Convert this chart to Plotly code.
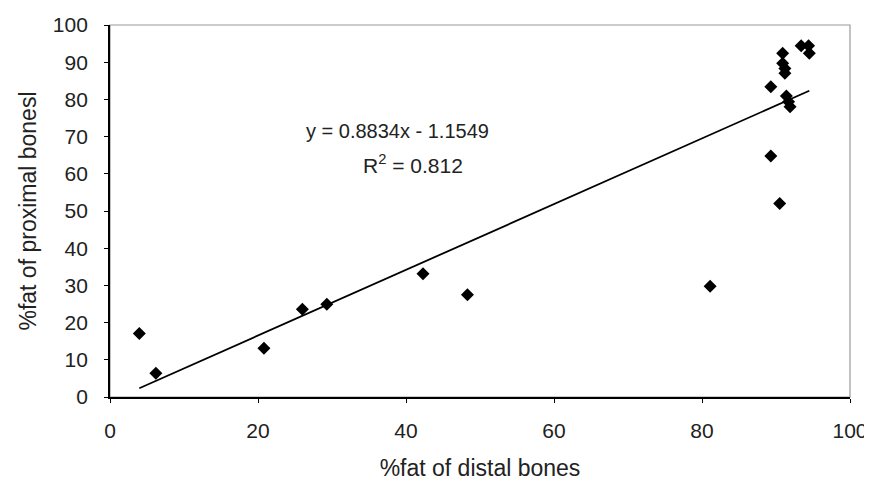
import plotly.graph_objects as go

# Data
x_distal = [3.96, 6.2, 20.8, 26.0, 29.3, 42.3, 48.3, 81.1, 89.3, 90.5,
            89.3, 90.9, 90.9, 91.2, 91.2, 91.4, 91.7, 91.9, 93.4, 94.4, 94.5]
y_proximal = [17.1, 6.4, 13.1, 23.6, 24.9, 33.1, 27.5, 29.8, 64.8, 52.0,
              83.4, 92.4, 89.7, 88.3, 87.0, 80.9, 79.4, 78.0, 94.4, 94.4, 92.4]

slope = 0.8834
intercept = -1.1549
r_squared = 0.812

x_ticks = [0, 20, 40, 60, 80, 100]
y_ticks = [0, 10, 20, 30, 40, 50, 60, 70, 80, 90, 100]

FONT = "Liberation Sans, Arial, sans-serif"

fig = go.Figure()

# trendline over the data range
x_min, x_max = min(x_distal), max(x_distal)
fig.add_trace(go.Scatter(
    x=[x_min, x_max],
    y=[slope * x_min + intercept, slope * x_max + intercept],
    mode="lines",
    line=dict(color="black", width=1.8),
    showlegend=False,
    hoverinfo="skip",
))

fig.add_trace(go.Scatter(
    x=x_distal, y=y_proximal,
    mode="markers",
    marker=dict(symbol="diamond", size=10, color="black"),
    showlegend=False,
))

fig.add_annotation(
    x=0.388, y=0.715, xref="paper", yref="paper",
    text="y = %.4fx - %.4f" % (slope, -intercept),
    showarrow=False, font=dict(family=FONT, size=20, color="#222"),
    xanchor="center", yanchor="middle",
)
fig.add_annotation(
    x=0.41, y=0.626, xref="paper", yref="paper",
    text="R<sup>2</sup> = %.3f" % r_squared,
    showarrow=False, font=dict(family=FONT, size=21, color="#222"),
    xanchor="center", yanchor="middle",
)

# grey plot-area frame (top/right)
fig.add_shape(type="rect", xref="paper", yref="paper", x0=0, y0=0, x1=1, y1=1,
              line=dict(color="#9a9a9a", width=1.2), layer="below")

fig.update_layout(
    width=864, height=473,
    margin=dict(l=102, r=22, t=17, b=84),
    paper_bgcolor="white", plot_bgcolor="white",
    font=dict(family=FONT, size=21, color="#222"),
    showlegend=False,
)
fig.update_xaxes(
    range=[0, 100], tickvals=x_ticks, ticktext=[str(v) for v in x_ticks],
    showgrid=False, zeroline=False, automargin=False,
    showline=True, linecolor="black", linewidth=1.8,
    ticks="outside", ticklen=4, tickcolor="black",
    ticklabelstandoff=10,
    title=dict(text="%fat of distal bones", font=dict(size=23), standoff=28),
)
fig.update_yaxes(
    range=[0, 100], tickvals=y_ticks, ticktext=[str(v) for v in y_ticks],
    showgrid=False, zeroline=False, automargin=False,
    showline=True, linecolor="black", linewidth=1.8,
    ticks="outside", ticklen=4, tickcolor="black",
    ticklabelstandoff=12,
    title=dict(text="%fat of proximal bonesl", font=dict(size=23), standoff=10),
)

fig.write_html("out.html")
